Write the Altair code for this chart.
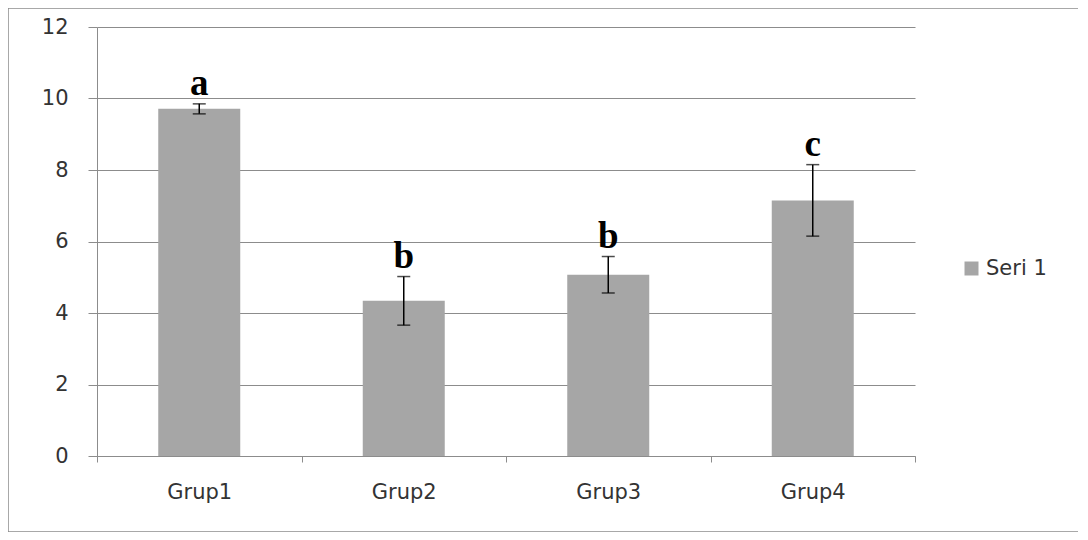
import altair as alt
import pandas as pd

groups = ["Grup1", "Grup2", "Grup3", "Grup4"]
means = [9.71, 4.34, 5.07, 7.15]
errors = [0.14, 0.68, 0.51, 1.0]
letters = ["a", "b", "b", "c"]
series_name = "Seri 1"

df = pd.DataFrame({
    "group": groups,
    "mean": means,
    "err": errors,
    "letter": letters,
    "series": [series_name] * len(groups),
})
df["lower"] = df["mean"] - df["err"]
df["upper"] = df["mean"] + df["err"]

FONT = "DejaVu Sans"
GRAY_TXT = "#333333"
GRID = "#8c8c8c"

x_enc = alt.X(
    "group:N",
    sort=groups,
    title=None,
    scale=alt.Scale(paddingInner=0, paddingOuter=0),
    axis=alt.Axis(
        labelAngle=0,
        labelFont=FONT,
        labelFontSize=21,
        labelColor=GRAY_TXT,
        labelPadding=19,
        tickBand="extent",
        tickSize=6,
        tickColor=GRID,
        domainColor=GRID,
        grid=False,
    ),
)
y_scale = alt.Scale(domain=[0, 12])
y_axis = alt.Axis(
    values=[0, 2, 4, 6, 8, 10, 12],
    labelFont=FONT,
    labelFontSize=21,
    labelColor=GRAY_TXT,
    labelPadding=20,
    tickSize=9,
    tickColor=GRID,
    domainColor=GRID,
    gridColor=GRID,
    gridWidth=1.2,
    gridOpacity=1,
)

base = alt.Chart(df)

bars = base.mark_bar(size=82).encode(
    x=x_enc,
    y=alt.Y("mean:Q", title=None, scale=y_scale, axis=y_axis),
    color=alt.Color(
        "series:N",
        scale=alt.Scale(domain=[series_name], range=["#a6a6a6"]),
        legend=alt.Legend(
            title=None,
            orient="none",
            legendX=864,
            legendY=231,
            symbolType="square",
            symbolSize=196,
            symbolStrokeWidth=0,
            labelFont=FONT,
            labelFontSize=21,
            labelColor=GRAY_TXT,
            padding=0,
        ),
    ),
)

rule = base.mark_rule(color="black", strokeWidth=1.5).encode(
    x=alt.X("group:N", sort=groups),
    y=alt.Y("lower:Q", scale=y_scale),
    y2="upper:Q",
)

cap_hi = base.mark_tick(color="black", size=13, thickness=1.5, orient="horizontal").encode(
    x=alt.X("group:N", sort=groups),
    y=alt.Y("upper:Q", scale=y_scale),
)
cap_lo = base.mark_tick(color="black", size=13, thickness=1.5, orient="horizontal").encode(
    x=alt.X("group:N", sort=groups),
    y=alt.Y("lower:Q", scale=y_scale),
)

labels = base.mark_text(
    font="Liberation Serif",
    fontWeight="bold",
    fontSize=37,
    color="black",
    baseline="alphabetic",
    dy=-9,
).encode(
    x=alt.X("group:N", sort=groups),
    y=alt.Y("upper:Q", scale=y_scale),
    text="letter:N",
)

frame = alt.Chart(pd.DataFrame({"f": [0]})).mark_rect(
    fill=None, stroke=GRID, strokeWidth=1.5
).encode(
    x=alt.value(-89), x2=alt.value(984), y=alt.value(-19), y2=alt.value(505)
)

chart = alt.layer(frame, bars, rule, cap_hi, cap_lo, labels).properties(
    width=818,
    height=429,
    padding={"left": 89, "top": 19, "right": 163, "bottom": 76},
    autosize=alt.AutoSizeParams(type="none"),
    background="white",
).configure_view(stroke=None)

chart.save("out.html", embed_options={"renderer": "svg", "actions": False})
